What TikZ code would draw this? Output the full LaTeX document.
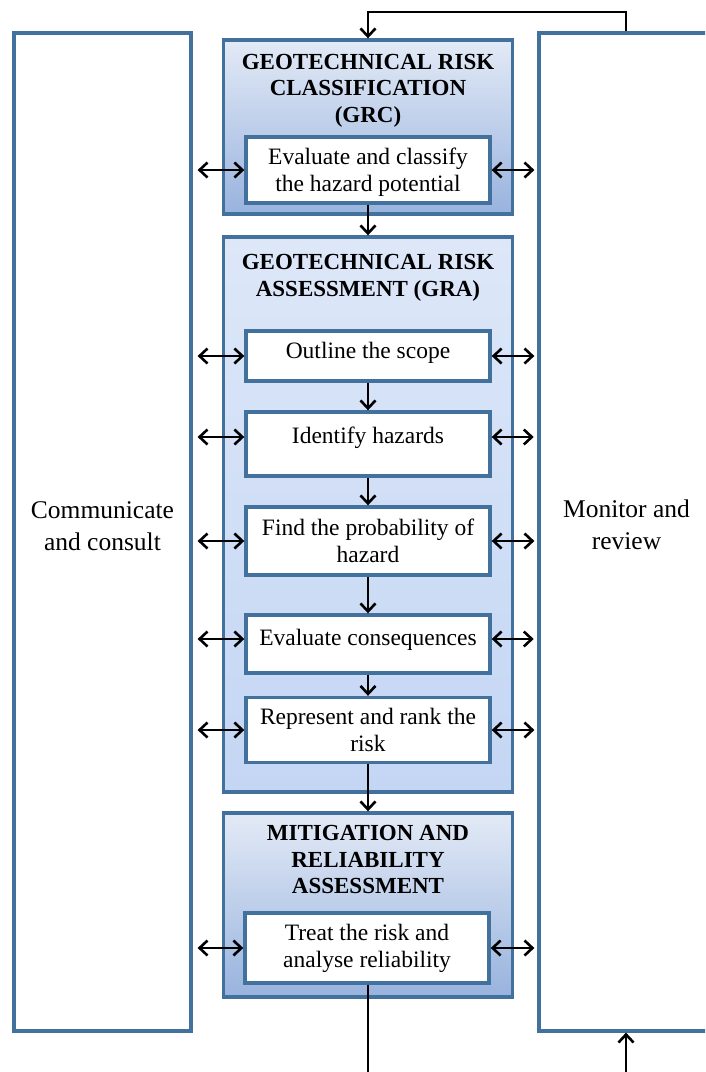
\documentclass[tikz,border=0pt]{standalone}
\usepackage{fontspec}
\setmainfont{Liberation Serif}
\usetikzlibrary{arrows.meta}
\definecolor{edge}{HTML}{41719C}
\definecolor{stagetop}{HTML}{E3EAF6}
\definecolor{stagebot}{HTML}{98B3DE}
\definecolor{gratop}{HTML}{DDE7F8}
\definecolor{grabot}{HTML}{C4D6F4}
\begin{document}
\begin{tikzpicture}[x=1pt,y=-1pt,
  sidebox/.style={draw=edge, line width=3.2pt, fill=white, inner sep=0pt},
  sidetext/.style={font=\fontsize{25.5}{32}\selectfont, align=center, inner sep=0pt},
  stage/.style={draw=edge, line width=3.4pt, minimum width=289pt, inner sep=0pt,
    top color=stagetop, bottom color=stagebot},
  task/.style={draw=edge, line width=3.4pt, fill=white, minimum width=244pt, inner sep=0pt,
    align=center, font=\fontsize{23.5}{27}\selectfont},
  heading/.style={font=\bfseries\fontsize{23}{26.5}\selectfont, align=center, inner sep=0pt},
  flow/.style={-{Straight Barb[length=8pt,width=15pt]}, line width=2.6pt},
  link/.style={{Straight Barb[length=8pt,width=15pt]}-{Straight Barb[length=8pt,width=15pt]}, line width=2.6pt},
]
\useasboundingbox (0,0) rectangle (705,1072);
\clip (0,0) rectangle (705,1072);

% side panels
\node[sidebox, minimum width=177pt, minimum height=998pt,
  label={[sidetext, yshift=6pt]center:Communicate\\and consult}] (comm) at (102.5,532) {};
\node[sidebox, minimum width=191pt, minimum height=998pt,
  label={[sidetext, xshift=-8pt, yshift=7pt]center:Monitor and\\review}] (mon) at (634.5,532) {};

% stage boxes
\node[stage, minimum height=174pt] (grc) at (368,127) {};
\node[stage, minimum height=555pt, top color=gratop, bottom color=grabot] (gra) at (368,514.5) {};
\node[stage, minimum height=184pt] (mra) at (368,905) {};

\node[heading] (grcT) at (368,90.5) {GEOTECHNICAL RISK\\CLASSIFICATION\\(GRC)};
\node[heading] (graT) at (368,278) {GEOTECHNICAL RISK\\ASSESSMENT (GRA)};
\node[heading] (mraT) at (368,859.5) {MITIGATION AND\\RELIABILITY\\ASSESSMENT};

% tasks
\node[task, minimum height=66pt, text depth=0pt] (eval) at (368,170) {Evaluate and classify\\the hazard potential};
\node[task, minimum height=50pt, text height=15pt, text depth=11pt] (scope) at (368,356) {Outline the scope};
\node[task, minimum height=64pt, text height=14pt, text depth=16pt] (ident) at (368,444) {Identify hazards};
\node[task, minimum height=68pt] (prob) at (368,541) {Find the probability of\\hazard};
\node[task, minimum height=58pt, text height=15pt, text depth=13pt] (cons) at (368,644) {Evaluate consequences};
\node[task, minimum height=65pt] (rank) at (368,730) {Represent and rank the\\risk};
\node[task, minimum height=70pt] (treat) at (367,948) {Treat the risk and\\analyse reliability};

% main flow
\coordinate (loop) at (626,12);
\coordinate (outA) at (368,1085);
\coordinate (outB) at (626,1085);
\draw[flow] (mon.north -| loop) -- (loop) -| (grc.north);
\draw[flow] (eval.south) -- (gra.north);
\draw[flow] (scope) -- (ident);
\draw[flow] (ident) -- (prob);
\draw[flow] (prob) -- (cons);
\draw[flow] (cons) -- (rank);
\draw[flow] (rank.south) -- (mra.north);
\draw[line width=2.6pt] (treat.south -| outA) -- (outA);
\draw[flow] (outB) -- (mon.south -| outB);

% links to the side panels
\foreach \t in {eval,scope,prob,rank,treat}{
  \draw[link, shorten <=5pt] (comm.east |- \t.west) -- (\t.west);
  \draw[link, shorten >=3pt] (\t.east) -- (mon.west |- \t.east);
}
\draw[link, shorten <=5pt] (comm.east |- ident.west) ++(0,-7) -- ([yshift=7pt]ident.west);
\draw[link, shorten >=3pt] ([yshift=7pt]ident.east) -- ++(45,0);
\draw[link, shorten <=5pt] (comm.east |- cons.west) ++(0,-5) -- ([yshift=5pt]cons.west);
\draw[link, shorten >=3pt] ([yshift=5pt]cons.east) -- ++(45,0);
\end{tikzpicture}
\end{document}
